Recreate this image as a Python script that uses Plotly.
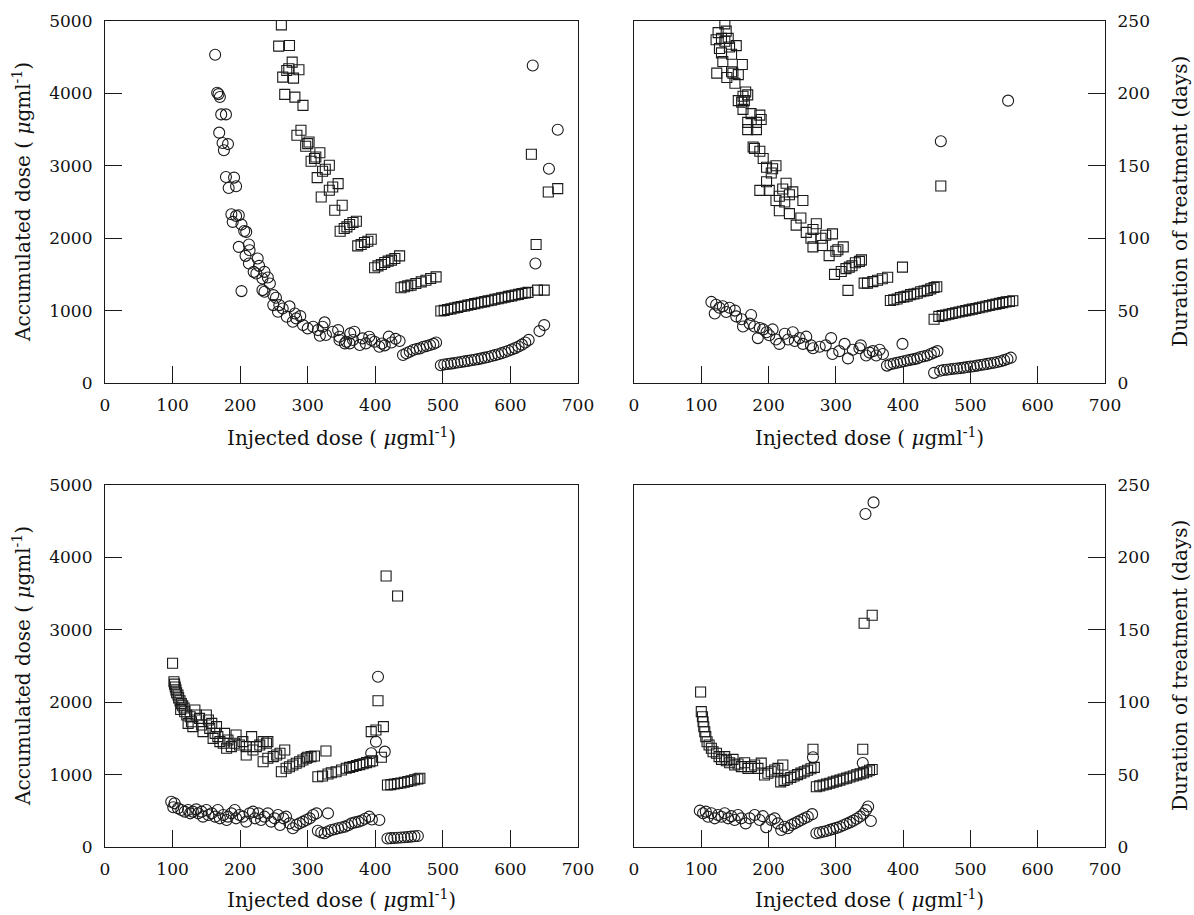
import plotly.graph_objects as go

# ---------------- Panel A (top-left): accumulated dose (ug/ml) ----------------
a_circ_x = [163,166,168,170,172,179,169,174,182,176,179,191,183,194,187,194,198,189,202,206,209,198,213,214,
            208,213,226,228,220,224,236,233,241,244,202,233,236,249,253,249,258,256,263,269,273,281,283,289,
            278,293,300,308,315,322,325,318,327,337,345,347,357,363,347,355,362,369,367,377,381,386,391,394,
            399,406,410,414,420,424,430,436,
            441,446,451,456,461,466,471,476,481,486,490,
            497,502,507,512,517,522,527,532,537,542,547,552,557,562,567,572,577,582,587,592,597,602,607,612,
            617,622,627,643,650,637,657,670,633]
a_circ_y = [4534,4010,3990,3950,3710,3710,3458,3315,3300,3214,2846,2837,2694,2717,2331,2308,2317,2225,2188,2100,
            2087,1880,1912,1834,1756,1650,1720,1618,1535,1512,1535,1443,1457,1374,1269,1283,1260,1214,1177,1076,
            1076,984,1030,915,1058,960,892,924,846,800,754,777,731,777,837,652,662,708,731,593,570,685,639,547,
            547,708,593,524,616,547,639,593,570,500,545,520,640,560,610,580,
            386,410,432,455,470,478,501,510,524,540,560,
            245,255,262,268,275,283,290,298,305,315,322,330,340,350,360,372,385,398,412,428,445,463,482,505,
            530,560,595,717,800,1651,2960,3497,4386]
a_sq_x = [261,257,273,277,272,269,287,263,279,266,281,293,290,284,302,297,300,318,310,305,312,332,326,322,314,
          345,337,332,320,351,340,348,354,358,362,367,372,374,379,384,389,394,399,404,409,414,419,424,429,436,
          438,443,448,453,460,468,475,482,490,
          497,502,507,512,517,522,527,532,537,542,547,552,557,562,567,572,577,582,587,592,597,602,607,612,617,
          622,626,640,650,638,656,670,631]
a_sq_y = [4947,4653,4662,4432,4340,4317,4326,4225,4211,3986,3949,3834,3490,3421,3329,3269,3306,3180,3100,3062,
          3122,3007,2952,2924,2837,2754,2708,2662,2570,2455,2386,2097,2134,2156,2189,2216,2234,1894,1912,1940,
          1958,1986,1591,1618,1636,1664,1683,1697,1720,1756,1315,1329,1343,1352,1374,1397,1420,1443,1466,
          995,1003,1016,1024,1036,1044,1056,1063,1076,1084,1096,1104,1116,1124,1136,1143,1156,1164,1176,1184,
          1196,1203,1216,1224,1236,1244,1252,1283,1283,1912,2639,2685,3159]

# ---------------- Panel B (top-right): duration of treatment (days) ----------------
b_sq_x = [135,125,137,122,130,140,135,127,142,152,130,145,132,161,123,138,147,155,150,145,166,162,169,155,160,
          164,162,174,187,169,182,189,169,182,177,179,187,192,197,211,206,204,197,187,201,226,221,236,231,216,
          224,211,216,251,231,248,241,256,266,271,263,278,285,295,266,280,290,300,311,303,298,308,315,320,324,
          329,335,338,318,342,347,355,362,369,377,399,
          381,386,391,396,401,406,411,416,421,426,431,436,441,446,450,446,
          453,458,463,468,473,478,483,488,493,498,503,508,513,518,523,528,533,538,543,548,553,558,563,456]
b_sq_y = [248,242,243,237,238,238,236,231,232,233,228,227,222,220,214,211,214,213,207,215,201,198,199,195,194,
          195,189,186,185,180,180,182,175,175,163,162,160,155,149,150,148,145,139,133,133,138,134,132,130,129,
          125,126,119,126,117,114,109,104,106,110,100,100,102,103,94,95,88,91,94,92,75,77,79,80,81,
          83,84,85,64,69,69,70,71,72,73,80,
          57,57.5,58,59,59.5,60,61,61.5,62,63,63.5,64,65,66,66.5,44,
          46,46.5,47,47.5,48,48.5,49,49.5,50,50.5,51,51.5,52,52.5,53,53.5,54,54.5,55,55.5,56,56.3,56.8,136]
b_circ_x = [115,122,127,120,132,137,142,150,152,160,162,174,172,179,187,192,197,184,201,206,211,216,224,229,236,
            239,246,251,256,263,266,276,285,293,295,305,313,318,325,335,337,345,350,355,360,365,370,399,
            376,381,386,391,396,401,406,411,416,421,426,431,436,441,446,451,446,
            455,460,465,470,475,480,485,490,495,500,505,510,515,520,525,530,535,540,545,550,555,560,456,556]
b_circ_y = [56,54,52,48,53,49,52,50,46,44,39,47,41,39,38,37,35,31,33,37,30,27,34,30,35,
            29,31,27,32,26,24,25,26,31,20,22,27,17,23,24,26,19,21,22,19,23,20,27,
            12,13,13.5,14,14.5,15,15.5,16,16.5,17,18,18.5,19,20,21,22,7,
            8.5,9,9.2,9.5,9.8,10,10.3,10.6,11,11.3,11.6,12,12.4,12.8,13.2,13.6,14,14.5,15,15.8,16.6,17.5,167,195]

# ---------------- Panel C (bottom-left): accumulated dose (ug/ml) ----------------
c_sq_x = [100,102,103,104,105,106,108,109,111,113,115,117,112,118,
          121,126,133,135,128,123,130,140,143,150,153,158,145,155,163,165,160,167,170,177,175,182,187,180,192,
          194,199,204,209,209,217,219,224,229,234,239,241,234,241,249,254,259,266,
          261,268,273,278,283,288,293,298,300,305,310,327,
          315,322,330,335,342,350,357,362,367,372,377,382,387,392,396,
          394,401,412,404,409,416,433,
          418,423,428,433,438,443,448,453,458,463,466]
c_sq_y = [2537,2283,2250,2210,2170,2130,2100,2060,2020,1980,1950,1920,1900,1869,
          1823,1800,1892,1823,1731,1708,1662,1777,1685,1823,1754,1708,1593,1639,1570,1662,1501,1524,1455,1570,
          1432,1478,1386,1363,1432,1547,1409,1455,1386,1271,1524,1340,1386,1409,1455,1432,1455,1178,1225,1248,
          1271,1294,1340,
          1040,1087,1109,1133,1156,1178,1202,1225,1239,1248,1257,1326,
          971,980,1008,1026,1040,1063,1087,1100,1112,1125,1138,1150,1165,1178,1192,
          1593,1616,1662,2021,1239,3743,3467,
          856,862,870,878,885,895,905,915,928,940,949]
c_circ_x = [98,103,101,108,113,118,123,126,130,135,138,143,145,150,153,158,163,167,170,175,180,182,187,192,194,
            199,204,209,214,219,222,227,231,236,241,246,251,256,259,264,268,273,278,283,288,293,298,303,308,313,330,
            315,320,325,330,335,340,345,350,355,360,365,370,375,380,385,391,395,406,
            404,401,394,414,
            418,423,428,433,438,443,448,453,458,463]
c_circ_y = [626,603,548,534,511,488,511,465,488,520,465,488,419,511,442,465,419,511,396,442,373,419,465,511,396,
            442,419,350,465,488,396,465,373,419,465,350,396,442,304,396,419,327,258,304,327,350,373,396,442,465,465,
            225,200,190,215,235,245,258,270,281,300,327,340,350,365,390,419,380,373,
            2352,1455,1294,1317,
            118,122,125,128,131,135,139,143,148,152]

# ---------------- Panel D (bottom-right): duration of treatment (days) ----------------
d_sq_x = [99,100,101.7,102.7,103.7,105.2,106.7,108.6,111.6,115,117.5,122.5,126.4,130,134.8,137.3,142.2,147.2,
          149.6,154.6,159.5,164.4,169.4,174.3,179.3,184.2,189.1,194,199,204,209,213.8,221.2,
          218,223,228,233,238,243,248,253,258,263,268,266,
          271,276,281,286,291,296,301,306,311,316,321,326,331,336,341,346,350,354,
          340,342,354]
d_sq_y = [107,93.5,90,86.5,83,79.6,76.2,72.7,70.4,68.2,65.8,64.7,62.4,60.5,62.4,59.6,58.2,60.5,
          56.6,57.3,55.5,58.2,54.3,55.5,56.6,54.3,57.9,49.7,50.9,52,53.2,54.3,56.6,
          45,46,47,48,49,50,51,52,53,54,55,67.5,
          41.6,42.2,42.8,43.4,44,44.8,45.5,46.2,47,47.6,48.3,49,49.8,50.5,51.2,52,53,53.5,
          67.5,154.5,160]
d_circ_x = [97.8,102.7,106.7,110.1,115,120,124.9,129.9,134.8,139.8,144.7,149.6,154.6,159.5,166,171.9,179.3,
            186.7,191.6,196.5,204,209,213.8,218.8,223.7,228.6,233.6,238.5,243.5,248.4,253.3,258.3,264.7,266,
            271,276,281,286,291,296,301,306,311,316,321,326,331,336,341,345,348,352,
            340,344,356]
d_circ_y = [25.1,23.3,24.4,20.9,23.3,19.8,22.1,20.9,23.3,19.8,21.3,18.6,22.1,19.8,16.3,19.8,22.1,
            18.6,21.3,13.6,18.6,19.8,16.3,11.7,14,12.9,15.2,16.3,17.5,18.6,19.8,20.9,22.7,62,
            9.5,10,10.5,11,11.8,12.5,13.2,14,15,16,17,18.2,19.5,21,23,25.5,28,18,
            58,230,238]

# ---------------- axis text ----------------
x_ticks = [0, 100, 200, 300, 400, 500, 600, 700]
left_ticks = [0, 1000, 2000, 3000, 4000, 5000]
right_ticks = [0, 50, 100, 150, 200, 250]
x_title = "Injected dose ( <i>μ</i>gml<sup>-1</sup>)"
left_title = "Accumulated dose ( <i>μ</i>gml<sup>-1</sup>)"
right_title = "Duration of treatment (days)"

W, H = 1194, 915
INK = "#1a1a1a"
FONT = "DejaVu Serif"

fig = go.Figure()

def add_pair(cx, cy, sx, sy, xa, ya):
    fig.add_trace(go.Scatter(x=sx, y=sy, mode="markers", xaxis=xa, yaxis=ya, showlegend=False,
                             marker=dict(symbol="square-open", size=10, color=INK, line=dict(width=1.1, color=INK))))
    fig.add_trace(go.Scatter(x=cx, y=cy, mode="markers", xaxis=xa, yaxis=ya, showlegend=False,
                             marker=dict(symbol="circle-open", size=11, color=INK, line=dict(width=1.1, color=INK))))

add_pair(a_circ_x, a_circ_y, a_sq_x, a_sq_y, "x", "y")
add_pair(b_circ_x, b_circ_y, b_sq_x, b_sq_y, "x2", "y2")
add_pair(c_circ_x, c_circ_y, c_sq_x, c_sq_y, "x3", "y3")
add_pair(d_circ_x, d_circ_y, d_sq_x, d_sq_y, "x4", "y4")

# pixel geometry of the panels
L0, L1 = 105, 578
R0, R1 = 634, 1105
T0, T1 = 21, 383
B0, B1 = 485, 847

def fx(p): return p / W
def fy(p): return 1 - p / H

tickfont = dict(family=FONT, size=17, color="#111")
xcommon = dict(range=[0, 700], tickvals=x_ticks, ticks="inside", ticklen=17, tickwidth=1, tickcolor=INK,
               showline=True, linecolor=INK, linewidth=1.2, mirror=True, showgrid=False, zeroline=False,
               tickfont=tickfont, ticklabelstandoff=6, automargin=False)
ycommon = dict(ticks="inside", ticklen=17, tickwidth=1, tickcolor=INK,
               showline=True, linecolor=INK, linewidth=1.2, mirror=True, showgrid=False, zeroline=False,
               tickfont=tickfont, ticklabelstandoff=8, automargin=False)

fig.update_layout(
    width=W, height=H, margin=dict(l=0, r=0, t=0, b=0),
    paper_bgcolor="white", plot_bgcolor="white",
    xaxis=dict(domain=[fx(L0), fx(L1)], anchor="y", **xcommon),
    xaxis2=dict(domain=[fx(R0), fx(R1)], anchor="y2", **xcommon),
    xaxis3=dict(domain=[fx(L0), fx(L1)], anchor="y3", **xcommon),
    xaxis4=dict(domain=[fx(R0), fx(R1)], anchor="y4", **xcommon),
    yaxis=dict(domain=[fy(T1), fy(T0)], anchor="x", range=[0, 5000], tickvals=left_ticks, side="left", **ycommon),
    yaxis2=dict(domain=[fy(T1), fy(T0)], anchor="x2", range=[0, 250], tickvals=right_ticks, side="right", **ycommon),
    yaxis3=dict(domain=[fy(B1), fy(B0)], anchor="x3", range=[0, 5000], tickvals=left_ticks, side="left", **ycommon),
    yaxis4=dict(domain=[fy(B1), fy(B0)], anchor="x4", range=[0, 250], tickvals=right_ticks, side="right", **ycommon),
)

titlefont = dict(family=FONT, size=20, color="#111")
ann = []
for cx_px, cy_px in [((L0 + L1) / 2, 437), ((R0 + R1) / 2, 437), ((L0 + L1) / 2, 899), ((R0 + R1) / 2, 899)]:
    ann.append(dict(text=x_title, x=fx(cx_px), y=fy(cy_px), xref="paper", yref="paper",
                    showarrow=False, font=titlefont, xanchor="center", yanchor="middle"))
for cx_px, cy_px, t in [(22, (T0 + T1) / 2, left_title), (22, (B0 + B1) / 2, left_title),
                        (1180, (T0 + T1) / 2, right_title), (1180, (B0 + B1) / 2, right_title)]:
    ann.append(dict(text=t, x=fx(cx_px), y=fy(cy_px), xref="paper", yref="paper", textangle=-90,
                    showarrow=False, font=titlefont, xanchor="center", yanchor="middle"))
fig.update_layout(annotations=ann)

fig.write_html("out.html", config={"displayModeBar": False},
               post_script="document.body.style.margin='0';document.body.style.overflow='hidden';")
